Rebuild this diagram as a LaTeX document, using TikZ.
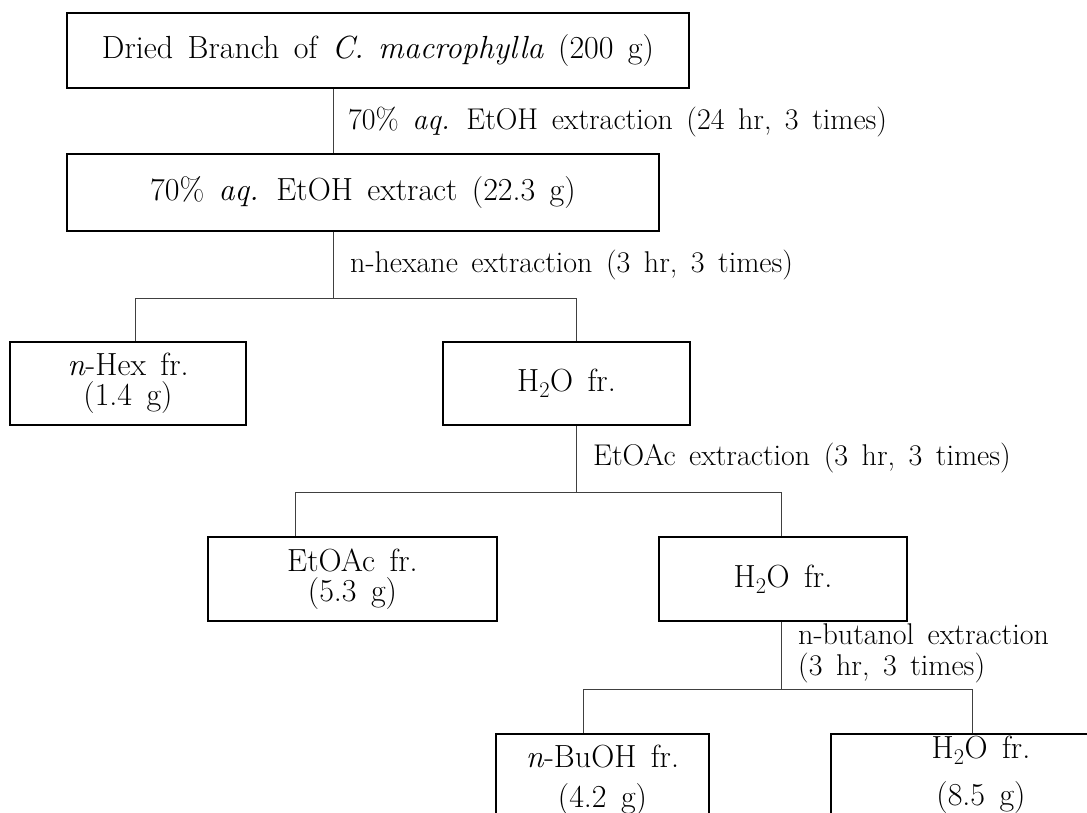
\documentclass[tikz,border=0pt]{standalone}
\newcommand\dtxt{\fontsize{32}{30}\selectfont\spaceskip=0.45em plus 0.05em minus 0.05em\relax}
\newcommand\ltxt{\fontsize{30}{31}\selectfont\spaceskip=0.45em plus 0.05em minus 0.05em\relax}
\begin{document}
\begin{tikzpicture}[x=1pt,y=-1pt,
  box/.style={draw=black, line width=1.3pt, inner sep=0pt, align=center, font=\dtxt},
  conn/.style={draw=black!75, line width=0.9pt},
  lbl/.style={anchor=west, inner sep=0pt, font=\ltxt, align=left}]
\useasboundingbox (0,0) rectangle (1087,812);
\clip (0,0) rectangle (1087,812);
\fill[white] (0,0) rectangle (1087,812);
% boxes
\node[box, minimum width=622pt, minimum height=75pt] (b1) at (378,50.5) {Dried Branch of \textit{C. macrophylla} (200 g)};
\node[box, minimum width=592pt, minimum height=77pt] (b2) at (363,192.5) {70\% \textit{aq.} EtOH extract (22.3 g)};
\node[box, minimum width=236pt, minimum height=83pt] (hex) at (128,383.5) {\textit{n}-Hex fr.\\(1.4 g)};
\node[box, minimum width=247pt, minimum height=83pt] (w1) at (566.5,383.5) {H\textsubscript{2}O fr.};
\node[box, minimum width=289pt, minimum height=84pt] (ea) at (352.5,579) {EtOAc fr.\\(5.3 g)};
\node[box, minimum width=248pt, minimum height=84pt] (w2) at (783,579) {H\textsubscript{2}O fr.};
\node[box, minimum width=213pt, minimum height=92pt] (bu) at (602.5,780) {\textit{n}-BuOH fr.\\[10pt](4.2 g)};
\node[box, minimum width=300pt, minimum height=82pt] (w3) at (981,775) {H\textsubscript{2}O fr.\\[16pt](8.5 g)};
% labels
\node[lbl] (l1) at (348,122) {70\% \textit{aq.} EtOH extraction (24 hr, 3 times)};
\node[lbl] (l2) at (350,265) {n-hexane extraction (3 hr, 3 times)};
\node[lbl] (l3) at (593,458) {EtOAc extraction (3 hr, 3 times)};
\node[lbl] (l4) at (798,653.5) {n-butanol extraction\\(3 hr, 3 times)};
% connectors
\coordinate (j1) at (333,0);
\draw[conn] (b1.south -| j1) -- (b2.north -| j1);
\coordinate (s1) at (333,298);
\coordinate (k1) at (135,298);
\coordinate (k2) at (576,298);
\draw[conn] (b2.south -| s1) -- (s1);
\draw[conn] (k1) -- (k2);
\draw[conn] (k1) -- (hex.north -| k1);
\draw[conn] (k2) -- (w1.north -| k2);
\coordinate (s2) at (576,492);
\coordinate (k3) at (295,492);
\coordinate (k4) at (781,492);
\draw[conn] (w1.south -| s2) -- (s2);
\draw[conn] (k3) -- (k4);
\draw[conn] (k3) -- (ea.north -| k3);
\draw[conn] (k4) -- (w2.north -| k4);
\coordinate (s3) at (781,689);
\coordinate (k5) at (583,689);
\coordinate (k6) at (972,689);
\draw[conn] (w2.south -| s3) -- (s3);
\draw[conn] (k5) -- (k6);
\draw[conn] (k5) -- (bu.north -| k5);
\draw[conn] (k6) -- (w3.north -| k6);
\end{tikzpicture}
\end{document}
